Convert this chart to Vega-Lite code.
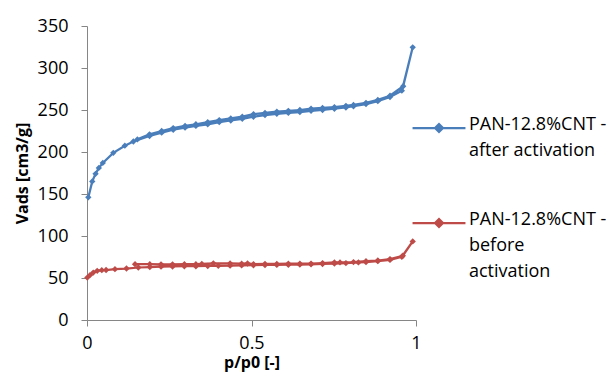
{
  "$schema": "https://vega.github.io/schema/vega-lite/v6.json",
  "width": 329,
  "height": 294,
  "autosize": "none",
  "padding": {"left": 87, "top": 26, "right": 198, "bottom": 56},
  "background": "white",
  "config": {
    "view": {"stroke": null},
    "font": "Open Sans"
  },
  "data": {
    "values": [
      {"s": "after", "i": 1, "p": 0.004, "v": 146},
      {"s": "after", "i": 2, "p": 0.016, "v": 165},
      {"s": "after", "i": 3, "p": 0.026, "v": 174},
      {"s": "after", "i": 4, "p": 0.036, "v": 181},
      {"s": "after", "i": 5, "p": 0.048, "v": 187},
      {"s": "after", "i": 6, "p": 0.08, "v": 199},
      {"s": "after", "i": 7, "p": 0.115, "v": 207.5},
      {"s": "after", "i": 8, "p": 0.141, "v": 212.5},
      {"s": "after", "i": 9, "p": 0.19, "v": 219},
      {"s": "after", "i": 10, "p": 0.227, "v": 223},
      {"s": "after", "i": 11, "p": 0.262, "v": 226.5},
      {"s": "after", "i": 12, "p": 0.298, "v": 229},
      {"s": "after", "i": 13, "p": 0.331, "v": 231},
      {"s": "after", "i": 14, "p": 0.367, "v": 233},
      {"s": "after", "i": 15, "p": 0.402, "v": 235.5},
      {"s": "after", "i": 16, "p": 0.437, "v": 237.5},
      {"s": "after", "i": 17, "p": 0.472, "v": 239.5},
      {"s": "after", "i": 18, "p": 0.506, "v": 242},
      {"s": "after", "i": 19, "p": 0.541, "v": 244},
      {"s": "after", "i": 20, "p": 0.577, "v": 245.5},
      {"s": "after", "i": 21, "p": 0.612, "v": 246.5},
      {"s": "after", "i": 22, "p": 0.647, "v": 247.5},
      {"s": "after", "i": 23, "p": 0.681, "v": 249},
      {"s": "after", "i": 24, "p": 0.716, "v": 250},
      {"s": "after", "i": 25, "p": 0.752, "v": 251.5},
      {"s": "after", "i": 26, "p": 0.787, "v": 253},
      {"s": "after", "i": 27, "p": 0.81, "v": 254.5},
      {"s": "after", "i": 28, "p": 0.848, "v": 257},
      {"s": "after", "i": 29, "p": 0.884, "v": 260.5},
      {"s": "after", "i": 30, "p": 0.921, "v": 265.5},
      {"s": "after", "i": 31, "p": 0.957, "v": 273},
      {"s": "after", "i": 32, "p": 0.99, "v": 324.6},
      {"s": "after", "i": 33, "p": 0.961, "v": 278.3},
      {"s": "after", "i": 34, "p": 0.921, "v": 267},
      {"s": "after", "i": 35, "p": 0.884, "v": 262},
      {"s": "after", "i": 36, "p": 0.848, "v": 258.5},
      {"s": "after", "i": 37, "p": 0.81, "v": 256},
      {"s": "after", "i": 38, "p": 0.787, "v": 255},
      {"s": "after", "i": 39, "p": 0.752, "v": 253.5},
      {"s": "after", "i": 40, "p": 0.716, "v": 252.5},
      {"s": "after", "i": 41, "p": 0.681, "v": 251.5},
      {"s": "after", "i": 42, "p": 0.647, "v": 250},
      {"s": "after", "i": 43, "p": 0.612, "v": 249},
      {"s": "after", "i": 44, "p": 0.577, "v": 248},
      {"s": "after", "i": 45, "p": 0.541, "v": 246.5},
      {"s": "after", "i": 46, "p": 0.506, "v": 245},
      {"s": "after", "i": 47, "p": 0.472, "v": 242},
      {"s": "after", "i": 48, "p": 0.437, "v": 240},
      {"s": "after", "i": 49, "p": 0.402, "v": 238},
      {"s": "after", "i": 50, "p": 0.367, "v": 235.5},
      {"s": "after", "i": 51, "p": 0.331, "v": 233},
      {"s": "after", "i": 52, "p": 0.298, "v": 231},
      {"s": "after", "i": 53, "p": 0.262, "v": 228.5},
      {"s": "after", "i": 54, "p": 0.227, "v": 225},
      {"s": "after", "i": 55, "p": 0.19, "v": 221},
      {"s": "after", "i": 56, "p": 0.153, "v": 215},
      {"s": "before", "i": 1, "p": 0.001, "v": 50.5},
      {"s": "before", "i": 2, "p": 0.009, "v": 53.4},
      {"s": "before", "i": 3, "p": 0.019, "v": 56.5},
      {"s": "before", "i": 4, "p": 0.031, "v": 58.5},
      {"s": "before", "i": 5, "p": 0.045, "v": 59.3},
      {"s": "before", "i": 6, "p": 0.058, "v": 59.5},
      {"s": "before", "i": 7, "p": 0.085, "v": 60.5},
      {"s": "before", "i": 8, "p": 0.12, "v": 61.3},
      {"s": "before", "i": 9, "p": 0.156, "v": 62.5},
      {"s": "before", "i": 10, "p": 0.191, "v": 63},
      {"s": "before", "i": 11, "p": 0.225, "v": 63.5},
      {"s": "before", "i": 12, "p": 0.26, "v": 63.7},
      {"s": "before", "i": 13, "p": 0.296, "v": 64},
      {"s": "before", "i": 14, "p": 0.331, "v": 64},
      {"s": "before", "i": 15, "p": 0.367, "v": 64.3},
      {"s": "before", "i": 16, "p": 0.399, "v": 64.5},
      {"s": "before", "i": 17, "p": 0.435, "v": 64.7},
      {"s": "before", "i": 18, "p": 0.47, "v": 65},
      {"s": "before", "i": 19, "p": 0.506, "v": 65.2},
      {"s": "before", "i": 20, "p": 0.541, "v": 65.5},
      {"s": "before", "i": 21, "p": 0.577, "v": 65.6},
      {"s": "before", "i": 22, "p": 0.612, "v": 65.8},
      {"s": "before", "i": 23, "p": 0.647, "v": 66},
      {"s": "before", "i": 24, "p": 0.681, "v": 66.3},
      {"s": "before", "i": 25, "p": 0.716, "v": 66.7},
      {"s": "before", "i": 26, "p": 0.752, "v": 67.2},
      {"s": "before", "i": 27, "p": 0.787, "v": 67.8},
      {"s": "before", "i": 28, "p": 0.825, "v": 68.5},
      {"s": "before", "i": 29, "p": 0.848, "v": 69},
      {"s": "before", "i": 30, "p": 0.884, "v": 70},
      {"s": "before", "i": 31, "p": 0.921, "v": 71.5},
      {"s": "before", "i": 32, "p": 0.957, "v": 75.3},
      {"s": "before", "i": 33, "p": 0.99, "v": 93.5},
      {"s": "before", "i": 34, "p": 0.96, "v": 76.5},
      {"s": "before", "i": 35, "p": 0.921, "v": 72.5},
      {"s": "before", "i": 36, "p": 0.884, "v": 70.8},
      {"s": "before", "i": 37, "p": 0.848, "v": 70},
      {"s": "before", "i": 38, "p": 0.81, "v": 69},
      {"s": "before", "i": 39, "p": 0.769, "v": 68.5},
      {"s": "before", "i": 40, "p": 0.752, "v": 68.5},
      {"s": "before", "i": 41, "p": 0.716, "v": 67.8},
      {"s": "before", "i": 42, "p": 0.681, "v": 67.2},
      {"s": "before", "i": 43, "p": 0.647, "v": 67},
      {"s": "before", "i": 44, "p": 0.612, "v": 67},
      {"s": "before", "i": 45, "p": 0.577, "v": 66.8},
      {"s": "before", "i": 46, "p": 0.541, "v": 66.8},
      {"s": "before", "i": 47, "p": 0.506, "v": 66.5},
      {"s": "before", "i": 48, "p": 0.488, "v": 67.3},
      {"s": "before", "i": 49, "p": 0.47, "v": 67},
      {"s": "before", "i": 50, "p": 0.435, "v": 67.3},
      {"s": "before", "i": 51, "p": 0.384, "v": 67.5},
      {"s": "before", "i": 52, "p": 0.349, "v": 66.8},
      {"s": "before", "i": 53, "p": 0.331, "v": 66.5},
      {"s": "before", "i": 54, "p": 0.296, "v": 66.5},
      {"s": "before", "i": 55, "p": 0.26, "v": 66.3},
      {"s": "before", "i": 56, "p": 0.225, "v": 66.3},
      {"s": "before", "i": 57, "p": 0.191, "v": 66.5},
      {"s": "before", "i": 58, "p": 0.146, "v": 66.5}
    ]
  },
  "mark": {
    "type": "line",
    "strokeWidth": 2.25,
    "point": {"filled": true, "shape": "diamond", "size": 40}
  },
  "encoding": {
    "x": {
      "field": "p",
      "type": "quantitative",
      "scale": {"domain": [0, 1], "nice": false, "zero": false},
      "axis": {
        "title": "p/p0 [-]",
        "values": [0, 0.5, 1],
        "format": "~g",
        "grid": false,
        "domainColor": "#868686",
        "tickColor": "#868686",
        "tickSize": 6,
        "labelPadding": 8,
        "labelFontSize": 18,
        "labelColor": "#000000",
        "labelFont": "Open Sans",
        "labelFlush": false,
        "titleFontSize": 16,
        "titleFontWeight": "bold",
        "titleFont": "Open Sans",
        "titleColor": "#000000",
        "titlePadding": 2
      }
    },
    "y": {
      "field": "v",
      "type": "quantitative",
      "scale": {"domain": [0, 350], "nice": false},
      "axis": {
        "title": "Vads [cm3/g]",
        "values": [0, 50, 100, 150, 200, 250, 300, 350],
        "grid": false,
        "domainColor": "#868686",
        "tickColor": "#868686",
        "tickSize": 6,
        "labelPadding": 13,
        "labelFontSize": 18,
        "labelColor": "#000000",
        "labelFont": "Open Sans",
        "titleFontSize": 16,
        "titleFontWeight": "bold",
        "titleFont": "Open Sans",
        "titleColor": "#000000",
        "titlePadding": 7
      }
    },
    "color": {
      "field": "s",
      "type": "nominal",
      "scale": {"domain": ["after", "before"], "range": ["#4A7EBB", "#BE4B48"]},
      "legend": {
        "title": null,
        "orient": "none",
        "legendX": 324,
        "legendY": 74,
        "symbolType": "M-1,0H1M-0.15,0L0,-0.15L0.15,0L0,0.15Z",
        "symbolSize": 2800,
        "symbolStrokeWidth": 2.25,
        "labelExpr": "datum.label == 'after' ? ['PAN-12.8%CNT -', 'after activation'] : ['PAN-12.8%CNT -', 'before', 'activation']",
        "labelFontSize": 18,
        "labelColor": "#000000",
        "labelFont": "Open Sans",
        "labelLimit": 300,
        "labelOffset": 2,
        "labelBaseline": "top",
        "rowPadding": 35,
        "encode": {
          "labels": {"update": {"lineHeight": {"value": 26}, "dy": {"value": -12}}}
        }
      }
    },
    "order": {"field": "i", "type": "quantitative"}
  }
}
